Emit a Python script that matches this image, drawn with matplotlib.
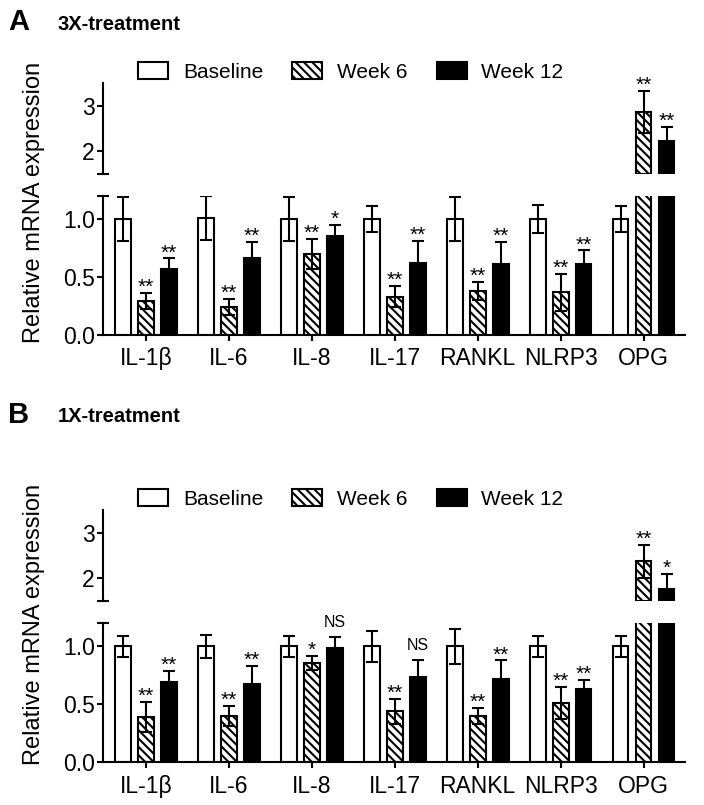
import numpy as np
import matplotlib
matplotlib.use("Agg")
import matplotlib.pyplot as plt

plt.rcParams['font.family'] = ['Liberation Sans', 'DejaVu Sans']
plt.rcParams['hatch.linewidth'] = 1.5

genes = ["IL-1\u03b2", "IL-6", "IL-8", "IL-17", "RANKL", "NLRP3", "OPG"]
groups = ["Baseline", "Week 6", "Week 12"]

# panel A: 3X-treatment
a_base = [1.0, 1.01, 1.0, 1.0, 1.0, 1.0, 1.0]
a_base_err = [0.19, 0.19, 0.19, 0.11, 0.19, 0.12, 0.11]
a_w6 = [0.29, 0.24, 0.70, 0.33, 0.38, 0.37, 2.86]
a_w6_err = [0.07, 0.07, 0.13, 0.09, 0.08, 0.16, 0.47]
a_w12 = [0.57, 0.66, 0.85, 0.62, 0.61, 0.61, 2.23]
a_w12_err = [0.09, 0.14, 0.10, 0.19, 0.19, 0.12, 0.31]
a_w6_sig = ["**", "**", "**", "**", "**", "**", "**"]
a_w12_sig = ["**", "**", "*", "**", "**", "**", "**"]

# panel B: 1X-treatment
b_base = [1.0, 1.0, 1.0, 1.0, 1.0, 1.0, 1.0]
b_base_err = [0.09, 0.10, 0.09, 0.13, 0.15, 0.09, 0.09]
b_w6 = [0.39, 0.40, 0.86, 0.44, 0.40, 0.51, 2.37]
b_w6_err = [0.13, 0.09, 0.06, 0.11, 0.07, 0.14, 0.37]
b_w12 = [0.69, 0.68, 0.99, 0.74, 0.72, 0.63, 1.76]
b_w12_err = [0.10, 0.15, 0.09, 0.14, 0.16, 0.08, 0.33]
b_w6_sig = ["**", "**", "*", "**", "**", "**", "**"]
b_w12_sig = ["**", "**", "NS", "NS", "**", "**", "*"]

fig = plt.figure(figsize=(7.04, 8.05), dpi=100)

x = np.arange(len(genes))
off = 0.277
width = 0.19
styles = [dict(facecolor='white', hatch=None),
          dict(facecolor='white', hatch='\\\\\\\\'),
          dict(facecolor='black', hatch=None)]
UP_MIN = 1.5


def draw_panel(y_low, y_up, means, errs, sigs):
    ax_lo = fig.add_axes([0.1463, y_low, 0.8267, 0.1727])
    ax_up = fig.add_axes([0.1463, y_up, 0.8267, 0.113])
    for j in range(3):
        xs = x + (j - 1) * off
        m = np.array(means[j])
        ax_lo.bar(xs, m, width, edgecolor='black', linewidth=1.5, zorder=2,
                  label=groups[j], **styles[j])
        big = m > UP_MIN
        if big.any():
            ax_up.bar(xs[big], m[big] - UP_MIN, width, bottom=UP_MIN,
                      edgecolor='black', linewidth=1.5, zorder=2, **styles[j])
        for ax in (ax_lo, ax_up):
            ax.errorbar(xs, m, yerr=errs[j], fmt='none', ecolor='black',
                        elinewidth=1.5, capsize=4.5, capthick=1.5, zorder=3)
    for ax in (ax_lo, ax_up):
        ax.set_xlim(-0.52, 6.5)
        ax.spines['top'].set_visible(False)
        ax.spines['right'].set_visible(False)
        ax.spines['left'].set_linewidth(1.5)
        ax.spines['bottom'].set_linewidth(1.5)
        ax.tick_params(axis='y', length=4, width=1.5, labelsize=16.5, pad=2)
        ax.tick_params(axis='x', length=4, width=1.5, labelsize=16.5, pad=5)
    ax_lo.set_ylim(0, 1.2)
    ax_lo.set_yticks([0.0, 0.5, 1.0])
    ax_lo.set_yticklabels(["0.0", "0.5", "1.0"])
    ax_lo.set_xticks(x)
    ax_lo.set_xticklabels(genes)
    ax_up.set_ylim(UP_MIN, 3.5)
    ax_up.set_yticks([2, 3])
    ax_up.spines['bottom'].set_visible(False)
    ax_up.set_xticks([])
    # end caps of the broken axis
    ax_lo.plot([0], [1.2], marker='_', ms=9, mew=1.5, color='black',
               transform=ax_lo.get_yaxis_transform(), clip_on=False)
    ax_up.plot([0], [UP_MIN], marker='_', ms=9, mew=1.5, color='black',
               transform=ax_up.get_yaxis_transform(), clip_on=False)
    # significance marks
    for j in (1, 2):
        for i in range(len(genes)):
            top = means[j][i] + errs[j][i]
            ax = ax_up if top > UP_MIN else ax_lo
            if sigs[j - 1][i] == "NS":
                ax.annotate("NS", (x[i] + (j - 1) * off, top), xytext=(0, 5),
                            textcoords='offset points', ha='center', va='bottom',
                            fontsize=11.5, fontstretch='condensed')
            else:
                ax.annotate(sigs[j - 1][i], (x[i] + (j - 1) * off, top),
                            xytext=(0, 0), textcoords='offset points',
                            ha='center', va='baseline', fontsize=15)
    return ax_lo, ax_up


axA_lo, axA_up = draw_panel(0.5839, 0.7839,
                            [a_base, a_w6, a_w12], [a_base_err, a_w6_err, a_w12_err],
                            [a_w6_sig, a_w12_sig])
axB_lo, axB_up = draw_panel(0.053, 0.2534,
                            [b_base, b_w6, b_w12], [b_base_err, b_w6_err, b_w12_err],
                            [b_w6_sig, b_w12_sig])

for ax, yc in ((axA_lo, 72), (axB_lo, 499)):
    handles, labels = ax.get_legend_handles_labels()
    fig.legend(handles, labels, loc='center left', ncol=3, frameon=False,
               bbox_to_anchor=(138 / 704, 1 - yc / 805), fontsize=15,
               handlelength=1.45, handleheight=0.87, handletextpad=0.7,
               columnspacing=1.4, borderpad=0, borderaxespad=0)

fig.text(34 / 704, 1 - 202 / 805, "Relative mRNA expression", rotation=90,
         ha='center', va='center', fontsize=17)
fig.text(34 / 704, 1 - 624 / 805, "Relative mRNA expression", rotation=90,
         ha='center', va='center', fontsize=17)

fig.text(8 / 704, 1 - 22 / 805, "A", fontsize=21, fontweight='bold', va='center')
fig.text(58 / 704, 1 - 24 / 805, "3X-treatment", fontsize=14.5, fontweight='bold', va='center')
fig.text(8 / 704, 1 - 415 / 805, "B", fontsize=21, fontweight='bold', va='center')
fig.text(58 / 704, 1 - 416 / 805, "1X-treatment", fontsize=14.5, fontweight='bold', va='center')

fig.savefig("out.png", dpi=100)
